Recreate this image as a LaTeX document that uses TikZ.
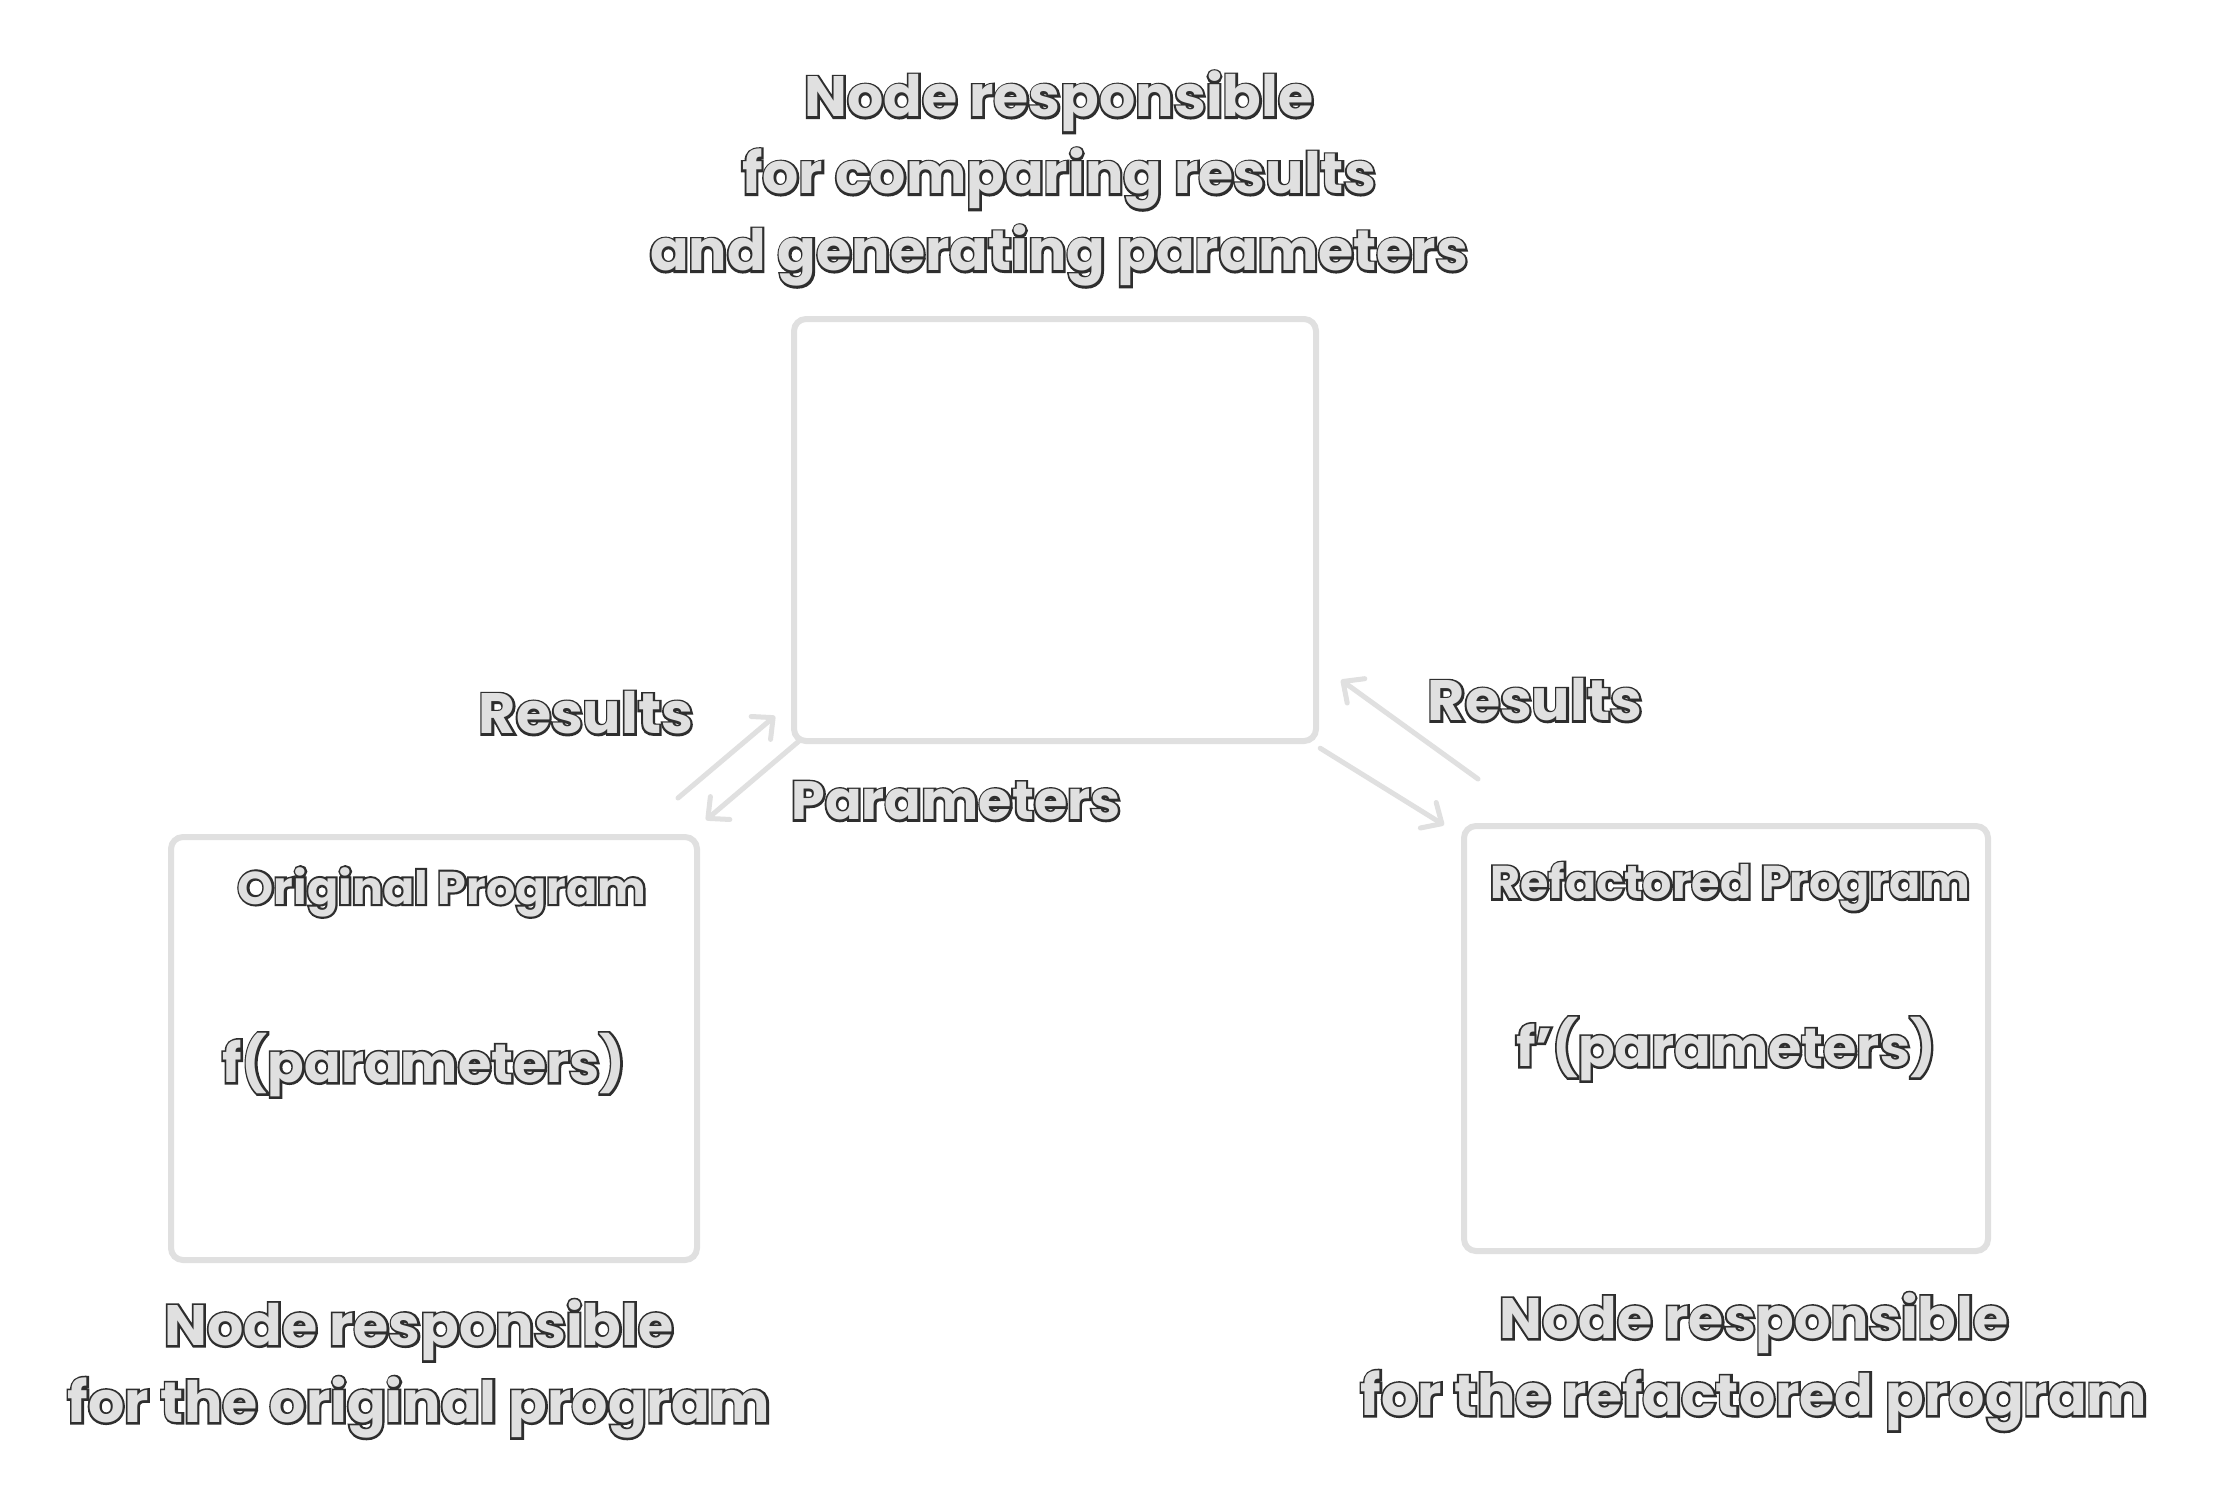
\documentclass[tikz,border=0pt]{standalone}
\usepackage{fontspec}
\setmainfont{Poppins}
\usetikzlibrary{arrows.meta}
\definecolor{boxgray}{HTML}{E0E0E0}
\newcommand{\ot}[1]{\leavevmode\rlap{\special{pdf:literal direct 1 Tr 4.2 w 0.18 0.18 0.18 RG}#1\special{pdf:literal direct 0 Tr 0.878 0.878 0.878 RG}}#1}
\tikzset{
  box/.style={draw=boxgray, line width=6pt, rounded corners=12pt, fill=white},
  arr/.style={draw=boxgray, line width=5pt, line cap=round, -{Straight Barb[length=16pt,width=30pt,line width=5pt, round]}},
  big/.style={text=boxgray, align=center, font=\fontsize{57}{77}\selectfont\bfseries},
  mid/.style={text=boxgray, font=\fontsize{54}{70}\selectfont\bfseries},
  small/.style={text=boxgray, font=\fontsize{46}{52}\selectfont\bfseries},
}
\begin{document}
\begin{tikzpicture}[x=1pt,y=-1pt]
\useasboundingbox[fill=white] (0,0) rectangle (2214,1508);
% boxes
\draw[box] (794,319) rectangle (1316,741);
\node[inner sep=0, minimum width=522pt, minimum height=422pt] (top) at (1055,530) {};
\draw[box] (171,837) rectangle (697,1260);
\node[inner sep=0, minimum width=526pt, minimum height=423pt] (left) at (434,1048.5) {};
\draw[box] (1464,826) rectangle (1988,1251);
\node[inner sep=0, minimum width=524pt, minimum height=425pt] (right) at (1726,1038.5) {};
% titles
\node[big] (toptxt) at (1059,179) {\ot{Node responsible}\\\ot{for comparing results}\\\ot{and generating parameters}};
\node[big] (lefttxt) at (419,1369) {\ot{Node responsible}\\\ot{for the original program}};
\node[big] (righttxt) at (1754,1362) {\ot{Node responsible}\\\ot{for the refactored program}};
% inner labels
\node[small] (orig) at (442,892) {\ot{Original Program}};
\node[mid] (f) at (424,1065) {\ot{f(parameters)}};
\node[small] (refac) at (1730,887) {\ot{Refactored Program}};
\node[mid] (fp) at (1726,1049) {\ot{f'(parameters)}};
% arrow labels
\node[mid, font=\fontsize{57}{70}\selectfont\bfseries] (res1) at (586,713) {\ot{Results}};
\node[mid] (par) at (956,801) {\ot{Parameters}};
\node[mid, font=\fontsize{57}{70}\selectfont\bfseries] (res2) at (1535,700) {\ot{Results}};
% arrows
\coordinate (a1s) at (678,798);
\coordinate (a1e) at (775,716);
\coordinate (a2e) at (706,820);
\coordinate (a3e) at (1444,825);
\coordinate (a4s) at (1478,779);
\coordinate (a4e) at (1341,680);
\draw[arr] (a1s) -- (a1e);
\draw[arr] ([xshift=5pt,yshift=0pt]top.south west) -- (a2e);
\draw[arr] ([xshift=4pt,yshift=-7pt]top.south east) -- (a3e);
\draw[arr] (a4s) -- (a4e);
\end{tikzpicture}
\end{document}
